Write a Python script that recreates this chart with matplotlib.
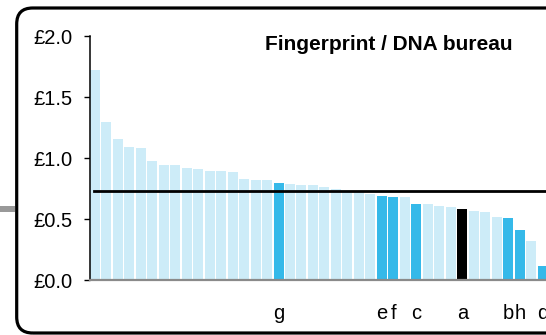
import matplotlib.pyplot as plt
from matplotlib.patches import FancyBboxPatch, Rectangle
import numpy as np

plt.rcParams['font.family'] = ['Liberation Sans', 'DejaVu Sans']

# bar values (£), sorted
values = [1.72, 1.30, 1.16, 1.09, 1.085, 0.98, 0.945, 0.945, 0.92, 0.91,
          0.895, 0.895, 0.887, 0.83, 0.82, 0.82, 0.80, 0.79, 0.78, 0.78,
          0.765, 0.75, 0.73, 0.73, 0.71, 0.69, 0.68, 0.68, 0.625, 0.625,
          0.61, 0.60, 0.585, 0.57, 0.56, 0.52, 0.51, 0.41, 0.32, 0.12]
# category per bar: 0 = other, 1 = highlighted, 2 = selected
kinds = [0] * 16 + [1] + [0] * 8 + [1, 1, 0, 1, 0, 0, 0, 2, 0, 0, 0, 1, 1, 0, 1]
labels = [''] * 16 + ['g'] + [''] * 8 + ['e', 'f', '', 'c', '', '', '', 'a',
                                          '', '', '', 'b', 'h', '', 'd']
average = 0.728
yticks = [0.0, 0.5, 1.0, 1.5, 2.0]
yticklabels = ['£0.0', '£0.5', '£1.0', '£1.5', '£2.0']
title = 'Fingerprint / DNA bureau'

palette = {0: '#cdecf8', 1: '#35b9e9', 2: '#000000'}

W, H = 546, 335
fig = plt.figure(figsize=(W / 100, H / 100), dpi=100)

# rounded frame, runs off the right edge like the original
frame = FancyBboxPatch((0.167, 0.02), 6.0, 3.25,
                       boxstyle='round,pad=0,rounding_size=0.16',
                       transform=fig.dpi_scale_trans, fill=False,
                       edgecolor='black', linewidth=2.3, clip_on=False)
fig.patches.append(frame)
fig.patches.append(Rectangle((0, 1.23), 0.15, 0.06, transform=fig.dpi_scale_trans,
                             facecolor='#999999', edgecolor='none'))

ax = fig.add_axes([89.5 / W, (H - 280.3) / H, (W - 89.5) / W, 244.3 / H])
x = np.arange(len(values))
ax.bar(x, values, width=0.87, color=[palette[k] for k in kinds], zorder=2)
ax.plot([-0.03, len(values)], [average, average], color='black', lw=2, zorder=3)

ax.set_xlim(-0.45, 39.28)
ax.set_ylim(0, 2.0)
ax.set_yticks(yticks)
ax.set_yticklabels(yticklabels)
ax.set_xticks(x)
ax.set_xticklabels(labels)
ax.tick_params(axis='y', length=4.5, width=1, pad=7.5, labelsize=14.5)
ax.tick_params(axis='x', length=0, pad=17, labelsize=14.5)

for side in ['top', 'right']:
    ax.spines[side].set_visible(False)
ax.spines['left'].set_linewidth(1.1)
ax.spines['bottom'].set_color('#8a8a8a')
ax.spines['bottom'].set_linewidth(1.6)
ax.spines['bottom'].set_zorder(4)
ax.set_facecolor('none')

fig.text(388.5 / W, (H - 45) / H, title, ha='center', va='center',
         fontsize=15, fontweight='bold')

fig.savefig('out.png', dpi=100)
